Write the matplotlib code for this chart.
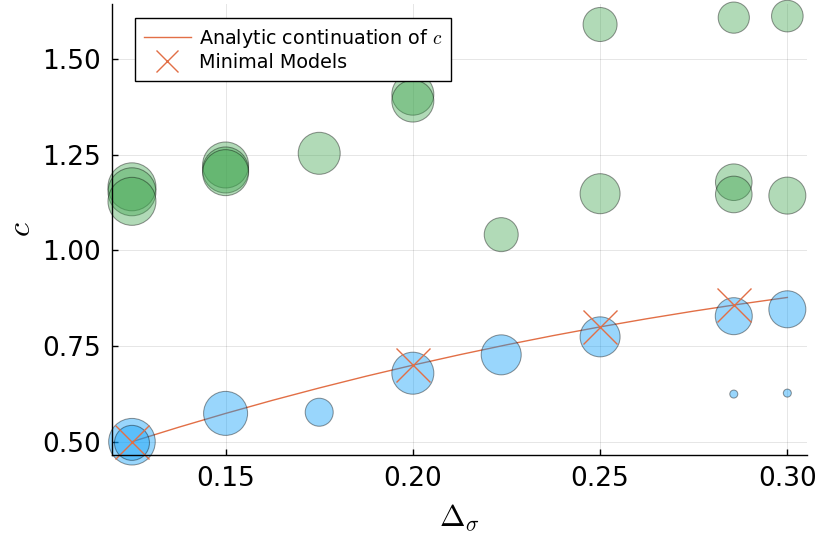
import matplotlib
matplotlib.use("Agg")
import matplotlib.pyplot as plt
from matplotlib.ticker import FixedLocator, FixedFormatter

plt.rcParams['font.family'] = ['DejaVu Sans']
plt.rcParams['mathtext.fontset'] = 'cm'

# ---- data ----
# lower (blue) bubbles: delta_sigma, c, marker radius (px)
blue_x = [0.125, 0.125, 0.15, 0.175, 0.2, 0.2236, 0.25, 0.2857, 0.3, 0.2857, 0.3]
blue_y = [0.500, 0.497, 0.574, 0.577, 0.679, 0.727, 0.774, 0.828, 0.846, 0.6245, 0.627]
blue_r = [23.3, 17.5, 22.0, 14.0, 21.0, 20.0, 20.0, 18.5, 18.5, 4.0, 4.0]

# upper (green) bubbles
green_x = [0.125, 0.125, 0.125, 0.15, 0.15, 0.15, 0.175, 0.2, 0.2, 0.2236,
           0.25, 0.25, 0.2857, 0.2857, 0.2857, 0.3, 0.3]
green_y = [1.166, 1.153, 1.128, 1.223, 1.210, 1.203, 1.2535, 1.408, 1.390, 1.041,
           1.148, 1.590, 1.608, 1.178, 1.146, 1.612, 1.143]
green_r = [24.0, 24.0, 24.0, 23.0, 23.0, 23.0, 21.0, 21.0, 21.0, 17.0,
           20.0, 17.0, 15.6, 18.3, 18.3, 15.8, 18.5]

# analytic continuation of c
line_x = [0.125, 0.1375, 0.15, 0.1625, 0.175, 0.1875, 0.2, 0.2125, 0.225,
          0.2375, 0.25, 0.2625, 0.275, 0.2875, 0.3]
line_y = [0.5, 0.5379, 0.5739, 0.6081, 0.6404, 0.6711, 0.7, 0.7273, 0.7531,
          0.7773, 0.8, 0.8213, 0.8412, 0.8597, 0.8769]

# minimal models
mm_x = [0.125, 0.2, 0.25, 0.2857]
mm_y = [0.5, 0.7, 0.8, 0.8571]

xticks = [0.15, 0.20, 0.25, 0.30]
xtick_labels = ["0.15", "0.20", "0.25", "0.30"]
yticks = [0.50, 0.75, 1.00, 1.25, 1.50]
ytick_labels = ["0.50", "0.75", "1.00", "1.25", "1.50"]

# ---- figure ----
DPI = 100
W, H = 819, 541
fig = plt.figure(figsize=(W / DPI, H / DPI), dpi=DPI)
left_px, right_px, top_px, bottom_px = 112.3, 807.0, 4.0, 455.0
ax = fig.add_axes([left_px / W, 1 - bottom_px / H,
                   (right_px - left_px) / W, (bottom_px - top_px) / H])

px2pt = 72.0 / DPI

def sizes(rs):
    return [(2 * r * px2pt) ** 2 for r in rs]

BLUE = '#009af9'
GREEN = '#3da44d'
RED = '#e26f46'

ax.plot(line_x, line_y, color=RED, lw=1.0, zorder=2,
        label='Analytic continuation of $c$')
ax.scatter(blue_x, blue_y, s=sizes(blue_r),
           facecolor=(0/255, 154/255, 249/255, 0.4),
           edgecolor=(0, 0, 0, 0.4), linewidths=0.75, zorder=3, clip_on=False)
ax.scatter(green_x, green_y, s=sizes(green_r),
           facecolor=(61/255, 164/255, 77/255, 0.4),
           edgecolor=(0, 0, 0, 0.4), linewidths=0.75, zorder=3, clip_on=False)
ax.plot(mm_x, mm_y, linestyle='none', marker='x', markersize=34 * px2pt,
        markeredgewidth=1.0, color=RED, zorder=4, label='Minimal Models',
        clip_on=False)

ax.set_xlim(0.11975, 0.30525)
ax.set_ylim(0.4653, 1.6436)

ax.xaxis.set_major_locator(FixedLocator(xticks))
ax.xaxis.set_major_formatter(FixedFormatter(xtick_labels))
ax.yaxis.set_major_locator(FixedLocator(yticks))
ax.yaxis.set_major_formatter(FixedFormatter(ytick_labels))

for s in ['top', 'right']:
    ax.spines[s].set_visible(False)
for s in ['left', 'bottom']:
    ax.spines[s].set_linewidth(1.0)
    ax.spines[s].set_zorder(5)

ax.tick_params(direction='in', length=4, width=1.0, labelsize=19, pad=8)
ax.grid(True, color='black', alpha=0.1, linewidth=0.7)
ax.set_axisbelow(True)

ax.set_xlabel(r'$\Delta_\sigma$', fontsize=22, labelpad=7)
ax.set_ylabel(r'$c$', fontsize=23, labelpad=4)

leg = ax.legend(loc='upper left', bbox_to_anchor=(0.0327, 0.968),
                borderaxespad=0, fontsize=13.8, frameon=True, fancybox=False,
                framealpha=1.0, edgecolor='black', handlelength=2.45,
                handletextpad=0.45, labelspacing=0.15, borderpad=0.45,
                markerscale=0.62)
leg.get_frame().set_linewidth(1.0)
leg.set_zorder(10)

fig.savefig('out.png', dpi=DPI)
